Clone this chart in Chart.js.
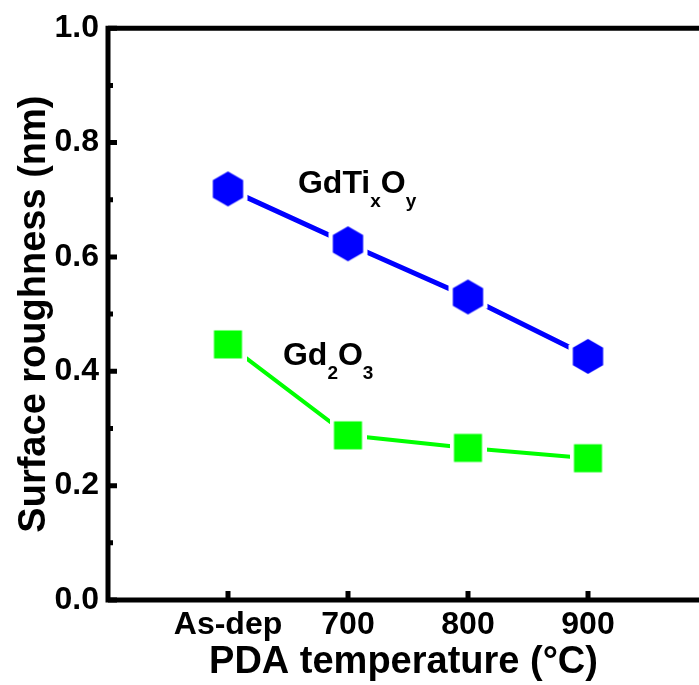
<!DOCTYPE html>
<html>
<head>
<meta charset="utf-8">
<script src="https://cdn.jsdelivr.net/npm/chart.js@4"></script>
<style>
  html, body { margin: 0; padding: 0; background: #fff; overflow: hidden; }
  #wrap { width: 699px; height: 685px; }
</style>
</head>
<body>
<div id="wrap"><canvas id="chart" width="699" height="685"></canvas></div>
<script>
// data
const categories = ['As-dep', '700', '800', '900']
const gdtiValues = [0.719, 0.623, 0.530, 0.426]
const gd2o3Values = [0.447, 0.288, 0.266, 0.248]
const yTicks = [0, 0.2, 0.4, 0.6, 0.8, 1.0]
const yMinorTicks = [0.1, 0.3, 0.5, 0.7, 0.9]

// series names drawn in the plot, [text, isSubscript]
const gdtiName = [['GdTi', 0], ['x', 1], ['O', 0], ['y', 1]]
const gd2o3Name = [['Gd', 0], ['2', 1], ['O', 0], ['3', 1]]

const FONT = "'Liberation Sans', Arial, sans-serif"
const BLUE = '#0000ff'
const GREEN = '#00ff00'

// hexagon marker with a white halo so the line stops short of it
const makeHexagon = (r, halo, color) => {
  const size = Math.ceil(2 * (r + halo)) + 2
  const c = document.createElement('canvas')
  c.width = size
  c.height = size
  const ctx = c.getContext('2d')
  const draw = (rad, fill) => {
    ctx.beginPath()
    for (let i = 0; i < 6; i++) {
      const a = -Math.PI / 2 + i * Math.PI / 3
      const px = size / 2 + rad * Math.cos(a)
      const py = size / 2 + rad * Math.sin(a)
      if (i === 0) ctx.moveTo(px, py)
      else ctx.lineTo(px, py)
    }
    ctx.closePath()
    ctx.fillStyle = fill
    ctx.fill()
  }
  draw(r + halo, '#ffffff')
  draw(r, color)
  return c
}

const makeSquare = (side, halo, color) => {
  const size = Math.ceil(side + 2 * halo)
  const c = document.createElement('canvas')
  c.width = size
  c.height = size
  const ctx = c.getContext('2d')
  ctx.fillStyle = '#ffffff'
  ctx.fillRect(0, 0, size, size)
  ctx.fillStyle = color
  ctx.fillRect((size - side) / 2, (size - side) / 2, side, side)
  return c
}

// frame (open on the right, the plot is cut there) + inward ticks
const framePlugin = {
  id: 'frame',
  beforeDatasetsDraw(chart) {
    const { ctx, chartArea: a, scales } = chart
    ctx.save()
    ctx.strokeStyle = '#000'
    ctx.lineWidth = 5
    ctx.lineCap = 'square'
    ctx.beginPath()
    ctx.moveTo(chart.width + 5, a.top)
    ctx.lineTo(a.left, a.top)
    ctx.lineTo(a.left, a.bottom)
    ctx.lineTo(chart.width + 5, a.bottom)
    ctx.stroke()
    ctx.lineCap = 'butt'
    ctx.beginPath()
    categories.forEach((c, i) => {
      const x = scales.x.getPixelForValue(i)
      ctx.moveTo(x, a.bottom)
      ctx.lineTo(x, a.bottom - 9)
    })
    yTicks.forEach(v => {
      const y = scales.y.getPixelForValue(v)
      ctx.moveTo(a.left, y)
      ctx.lineTo(a.left + 9, y)
    })
    yMinorTicks.forEach(v => {
      const y = scales.y.getPixelForValue(v)
      ctx.moveTo(a.left, y)
      ctx.lineTo(a.left + 5, y)
    })
    ctx.stroke()
    ctx.restore()
  },
  afterDatasetsDraw(chart) {
    const { ctx, scales } = chart
    const drawName = (parts, xv, yv) => {
      let x = scales.x.getPixelForValue(xv)
      const y = scales.y.getPixelForValue(yv)
      ctx.save()
      ctx.fillStyle = '#000'
      ctx.textBaseline = 'alphabetic'
      ctx.textAlign = 'left'
      parts.forEach(([t, sub]) => {
        ctx.font = sub ? `bold 19px ${FONT}` : `bold 32px ${FONT}`
        ctx.fillText(t, x, sub ? y + 14 : y)
        x += ctx.measureText(t).width
      })
      ctx.restore()
    }
    drawName(gdtiName, 0.583, 0.7115)
    drawName(gd2o3Name, 0.458, 0.411)
  }
}

const toPoints = values => values.map((v, i) => ({ x: i, y: v }))

new Chart(document.getElementById('chart'), {
  type: 'line',
  data: {
    datasets: [
      {
        label: 'GdTixOy',
        data: toPoints(gdtiValues),
        borderColor: BLUE,
        backgroundColor: BLUE,
        borderWidth: 5,
        pointStyle: makeHexagon(17.5, 5, BLUE),
        pointRadius: 15,
        tension: 0
      },
      {
        label: 'Gd2O3',
        data: toPoints(gd2o3Values),
        borderColor: GREEN,
        backgroundColor: GREEN,
        borderWidth: 4,
        pointStyle: makeSquare(28, 4.5, GREEN),
        pointRadius: 15,
        tension: 0
      }
    ]
  },
  options: {
    responsive: false,
    animation: false,
    devicePixelRatio: 1,
    layout: { autoPadding: false, padding: { top: 28, left: 0, right: 0, bottom: 0 } },
    plugins: {
      legend: { display: false },
      tooltip: { enabled: false }
    },
    scales: {
      x: {
        type: 'linear',
        min: -1,
        max: 3.925,
        afterBuildTicks: s => { s.ticks = categories.map((c, i) => ({ value: i })) },
        afterFit: s => {
          s.height = 85
          s.paddingLeft = 0
          s.paddingRight = 0
        },
        ticks: {
          callback: v => categories[v],
          font: { family: FONT, size: 32, weight: 'bold' },
          color: '#000',
          padding: 6,
          autoSkip: false,
          maxRotation: 0
        },
        grid: { display: false, drawTicks: false },
        border: { display: false },
        title: {
          display: true,
          text: 'PDA temperature (°C)',
          font: { family: FONT, size: 38, weight: 'bold' },
          color: '#000',
          padding: { top: 0, bottom: 0 }
        }
      },
      y: {
        min: 0,
        max: 1,
        afterBuildTicks: s => { s.ticks = yTicks.map(v => ({ value: v })) },
        afterFit: s => { s.width = 108 },
        ticks: {
          callback: v => v.toFixed(1),
          font: { family: FONT, size: 32, weight: 'bold' },
          color: '#000',
          padding: 9
        },
        grid: { display: false, drawTicks: false },
        border: { display: false },
        title: {
          display: true,
          text: 'Surface roughness (nm)',
          font: { family: FONT, size: 38, weight: 'bold' },
          color: '#000',
          padding: { top: 12, bottom: 0 }
        }
      }
    }
  },
  plugins: [framePlugin]
})
</script>
</body>
</html>
